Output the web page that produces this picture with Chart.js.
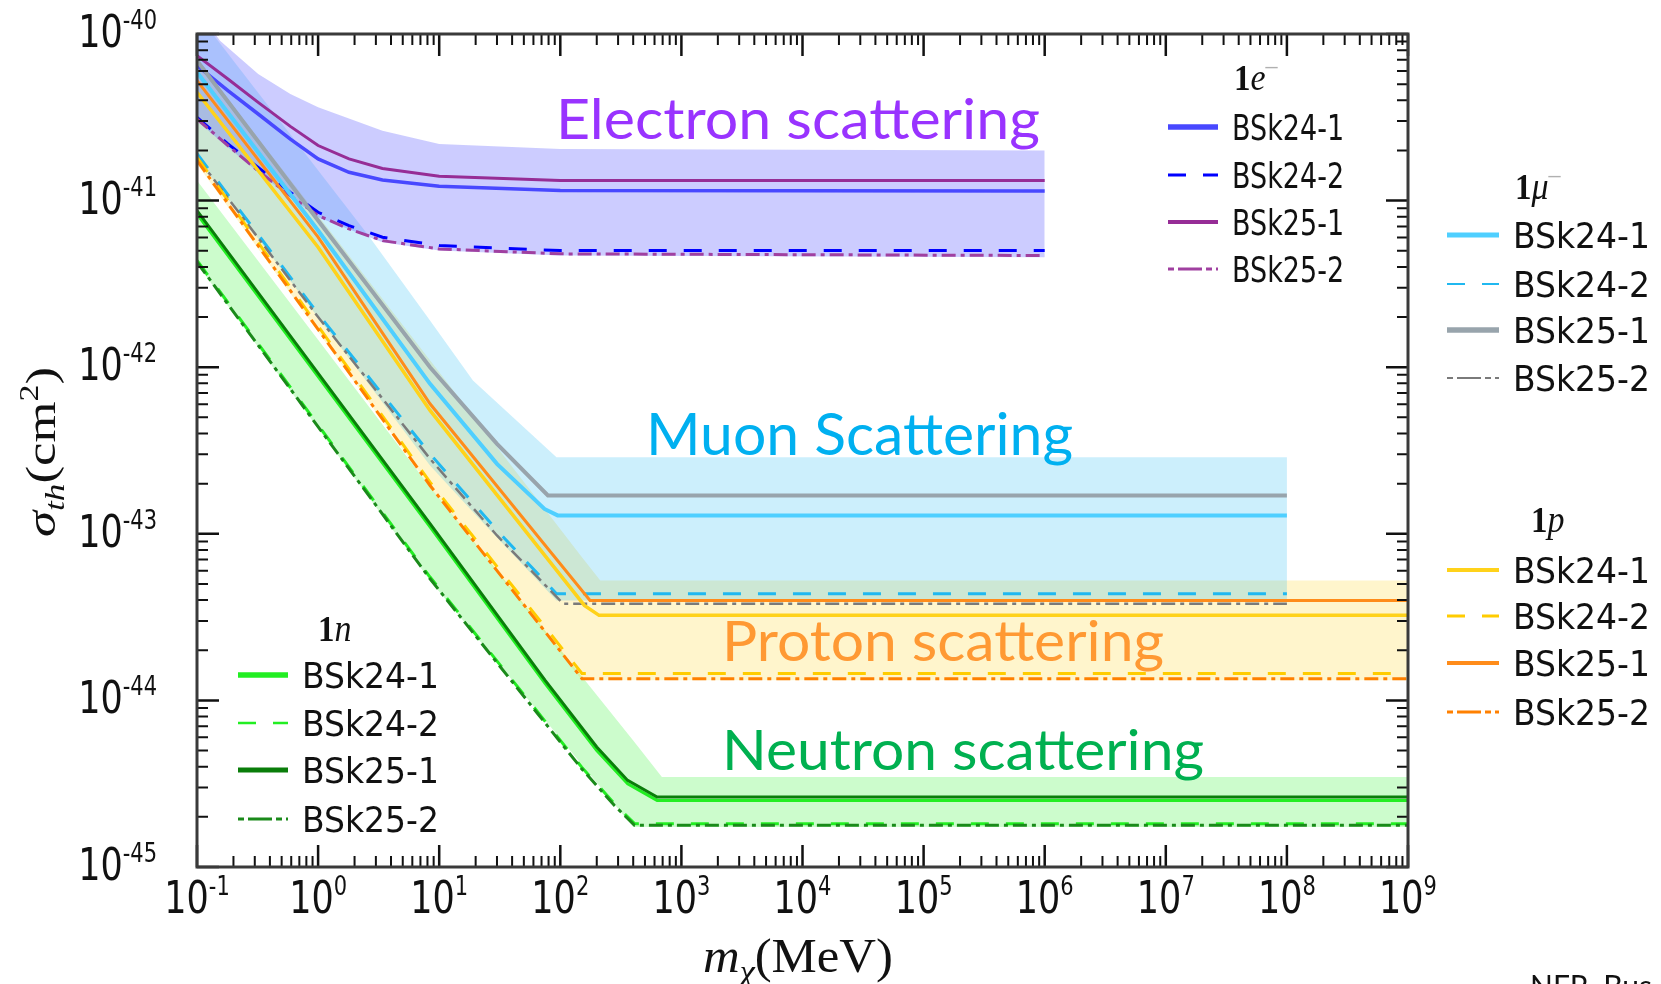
<!DOCTYPE html>
<html lang="en">
<head>
<meta charset="UTF-8">
<title>Threshold cross section</title>
<script src="https://cdn.jsdelivr.net/npm/chart.js@4.4.0/dist/chart.umd.min.js"></script>
<style>
  html, body { margin: 0; padding: 0; background: #fff; }
  canvas { display: block; }
</style>
</head>
<body>
<canvas id="sigma" width="1661" height="984"></canvas>
<script>
// values: m_chi in MeV, sigma_th in cm^2

// electron scattering
var eMass    = [0.1, 0.18, 0.32, 0.59, 1, 1.8, 3.4, 10, 100, 1e6];
var eBSk24_1 = [6.46e-41, 4.57e-41, 3.31e-41, 2.34e-41, 1.78e-41, 1.48e-41, 1.33e-41, 1.22e-41, 1.15e-41, 1.14e-41];
var eBSk24_2 = [3.16e-41, 2.19e-41, 1.58e-41, 1.12e-41, 8.51e-42, 7.08e-42, 6.03e-42, 5.37e-42, 5.01e-42, 5.01e-42];
var eBSk25_1 = [7.41e-41, 5.37e-41, 3.89e-41, 2.79e-41, 2.14e-41, 1.78e-41, 1.56e-41, 1.40e-41, 1.32e-41, 1.32e-41];
var eBSk25_2 = [3.09e-41, 2.14e-41, 1.51e-41, 1.07e-41, 8.13e-42, 6.76e-42, 5.75e-42, 5.13e-42, 4.79e-42, 4.68e-42];
var eBandMass = [0.1, 0.155, 0.32, 0.59, 1, 3.4, 10, 100, 1e6];
var eBandHigh = [1.41e-40, 9.12e-41, 5.75e-41, 4.37e-41, 3.63e-41, 2.63e-41, 2.19e-41, 2.04e-41, 2.00e-41];
var eBandLow  = [3.02e-41, 2.29e-41, 1.48e-41, 1.05e-41, 7.94e-42, 5.62e-42, 5.01e-42, 4.68e-42, 4.57e-42];

// muon scattering
var muMass24_1 = [0.1, 1, 8.4, 30, 74, 95, 1e8];
var muBSk24_1  = [5.89e-41, 6.61e-42, 7.94e-43, 2.63e-43, 1.41e-43, 1.29e-43, 1.29e-43];
var muMass24_2 = [0.1, 1, 8.4, 30, 93, 1e8];
var muBSk24_2  = [1.91e-41, 2.09e-42, 3.02e-43, 1.05e-43, 4.37e-44, 4.37e-44];
var muMass25_1 = [0.1, 1, 8.4, 30, 79, 1e8];
var muBSk25_1  = [6.92e-41, 7.59e-42, 1.0e-42, 3.47e-43, 1.70e-43, 1.70e-43];
var muMass25_2 = [0.1, 1, 8.4, 30, 106, 1e8];
var muBSk25_2  = [1.82e-41, 2.00e-42, 2.82e-43, 9.77e-44, 3.80e-44, 3.80e-44];
var muBandMass = [0.1, 0.135, 2.55, 8.4, 19, 93, 1e8];
var muBandHigh = [1.32e-40, 1.0e-40, 6.31e-42, 1.91e-42, 8.32e-43, 2.88e-43, 2.88e-43];
var muBandLow  = [1.78e-41, 1.35e-41, 8.13e-43, 2.57e-43, 1.35e-43, 3.98e-44, 3.98e-44];

// proton scattering
var pMass24_1 = [0.1, 1, 8.4, 158, 209, 1e9];
var pBSk24_1  = [4.47e-41, 5.25e-42, 5.50e-43, 3.72e-44, 3.24e-44, 3.24e-44];
var pMass25_1 = [0.1, 1, 8.4, 176, 1e9];
var pBSk25_1  = [5.25e-41, 6.03e-42, 6.03e-43, 3.98e-44, 3.98e-44];
var pMass_2   = [0.1, 8.4, 151, 1e9];
var pBSk24_2  = [1.82e-41, 2.04e-43, 1.45e-44, 1.45e-44];
var pBSk25_2  = [1.74e-41, 1.95e-43, 1.35e-44, 1.35e-44];
var pBandMass = [0.1, 8.4, 151, 214, 1e9];
var pBandHigh = [7.08e-41, 1.10e-42, 7.24e-44, 5.25e-44, 5.25e-44];
var pBandLow  = [1.66e-41, 1.91e-43, 1.32e-44, 1.32e-44, 1.32e-44];

// neutron scattering
var nMass_1   = [0.1, 8.4, 75, 200, 360, 630, 1e9];
var nBSk24_1  = [8.32e-42, 1.10e-43, 1.26e-44, 5.01e-45, 3.16e-45, 2.51e-45, 2.51e-45];
var nBSk25_1  = [8.71e-42, 1.15e-43, 1.32e-44, 5.25e-45, 3.31e-45, 2.63e-45, 2.63e-45];
var nMass_2   = [0.1, 8.4, 150, 280, 410, 1e9];
var nBSk24_2  = [4.37e-42, 5.50e-44, 3.98e-45, 2.40e-45, 1.82e-45, 1.82e-45];
var nBSk25_2  = [4.27e-42, 5.37e-44, 3.89e-45, 2.34e-45, 1.78e-45, 1.78e-45];
var nBandMass = [0.1, 8.4, 400, 690, 1e9];
var nBandHigh = [1.32e-41, 1.91e-43, 5.75e-45, 3.47e-45, 3.47e-45];
var nBandLow  = [4.17e-42, 5.25e-44, 1.74e-45, 1.74e-45, 1.74e-45];

// tick labels (powers of ten)
var xTickExp = ['-1', '0', '1', '2', '3', '4', '5', '6', '7', '8', '9'];
var yTickExp = ['-40', '-41', '-42', '-43', '-44', '-45'];
var models = ['BSk24-1', 'BSk24-2', 'BSk25-1', 'BSk25-2'];

var SANS = '"DejaVu Sans", sans-serif';
var SERIF = '"Liberation Serif", "DejaVu Serif", serif';
var DASH = [18, 17];
var DASHDOT = [14, 5, 4, 5];
var LEG_DASHDOT = [6, 4, 24, 4];

function pts(xs, ys) {
    return xs.map(function (x, i) { return {x: x, y: ys[i]}; });
}

function curve(group, model, xs, ys, color, width, dash, legWidth, legDash) {
    return {
        group: group, model: model, legWidth: legWidth || width, legDash: legDash || dash || [],
        data: pts(xs, ys), borderColor: color, borderWidth: width, borderDash: dash || [],
        pointRadius: 0, fill: false, tension: 0, order: 0
    };
}

function band(xs, hi, lo, color) {
    return [{
        data: pts(xs, hi), borderColor: 'rgba(0,0,0,0)', borderWidth: 1, pointRadius: 0,
        backgroundColor: color, fill: '+1', order: 5
    }, {
        data: pts(xs, lo), borderColor: 'rgba(0,0,0,0)', borderWidth: 1, pointRadius: 0,
        fill: false, order: 5
    }];
}

var datasets = [].concat(
    band(eBandMass, eBandHigh, eBandLow, 'rgba(100,100,255,0.33)'),
    band(muBandMass, muBandHigh, muBandLow, 'rgba(0,175,240,0.2)'),
    band(pBandMass, pBandHigh, pBandLow, 'rgba(255,205,0,0.2)'),
    band(nBandMass, nBandHigh, nBandLow, 'rgba(0,240,0,0.2)'),
    [
        curve('n', models[2], nMass_1, nBSk25_1, '#0a7d0a', 3, null, 5, null),
        curve('n', models[0], nMass_1, nBSk24_1, '#22ee22', 3, null, 5.5, null),
        curve('n', models[3], nMass_2, nBSk25_2, '#1a8a1a', 3, DASHDOT, 3, LEG_DASHDOT),
        curve('n', models[1], nMass_2, nBSk24_2, '#22ee22', 3, DASH, 2.5, DASH),

        curve('p', models[2], pMass25_1, pBSk25_1, '#ff8c1a', 3, null, 4, null),
        curve('p', models[0], pMass24_1, pBSk24_1, '#ffd21a', 3.5, null, 4, null),
        curve('p', models[3], pMass_2, pBSk25_2, '#ff8000', 3, DASHDOT, 3, LEG_DASHDOT),
        curve('p', models[1], pMass_2, pBSk24_2, '#ffcc00', 3, DASH, 3, DASH),

        curve('mu', models[2], muMass25_1, muBSk25_1, '#98a4ac', 4, null, 5.5, null),
        curve('mu', models[0], muMass24_1, muBSk24_1, '#4fcfff', 4, null, 5, null),
        curve('mu', models[3], muMass25_2, muBSk25_2, '#7a7a7a', 2.5, DASHDOT, 2, LEG_DASHDOT),
        curve('mu', models[1], muMass24_2, muBSk24_2, '#20b8f0', 3, DASH, 2, DASH),

        curve('e', models[2], eMass, eBSk25_1, '#962d96', 3, null, 4, null),
        curve('e', models[0], eMass, eBSk24_1, '#4848ff', 3.5, null, 5.5, null),
        curve('e', models[3], eMass, eBSk25_2, '#a040a0', 3, DASHDOT, 3, LEG_DASHDOT),
        curve('e', models[1], eMass, eBSk24_2, '#0000ff', 3, DASH, 3, DASH)
    ]
);

// text helpers
function stretchText(ctx, txt, x, y, font, sy, align) {
    ctx.save();
    ctx.font = font;
    ctx.textAlign = align || 'left';
    ctx.translate(x, y);
    ctx.scale(1, sy);
    ctx.fillText(txt, 0, 0);
    ctx.restore();
}

function piecesWidth(ctx, pieces) {
    var w = 0;
    pieces.forEach(function (p) { ctx.font = p.f; w += ctx.measureText(p.t).width; });
    return w;
}

function drawPieces(ctx, pieces, sx, sy) {
    ctx.save();
    ctx.scale(sx, sy);
    var cx = 0;
    pieces.forEach(function (p) {
        ctx.font = p.f;
        ctx.fillStyle = p.c || '#111';
        ctx.fillText(p.t, cx, p.dy || 0);
        cx += ctx.measureText(p.t).width;
    });
    ctx.restore();
}

function powerLabel(ctx, exp, x, baseY, align) {
    var bf = '35px ' + SANS, ef = '21px ' + SANS;
    ctx.font = bf;
    var wb = ctx.measureText('10').width;
    ctx.font = ef;
    var we = ctx.measureText(exp).width;
    var left = align === 'right' ? x - wb - we : x - (wb + we) / 2;
    stretchText(ctx, '10', left, baseY, bf, 1.28);
    stretchText(ctx, exp, left + wb, baseY - 18, ef, 1.3);
}

function fitText(ctx, txt, left, right, base, cap, color) {
    ctx.save();
    ctx.font = (cap / 0.7165).toFixed(1) + 'px Lato, "Open Sans", sans-serif';
    var w = ctx.measureText(txt).width;
    ctx.fillStyle = color;
    ctx.textAlign = 'left';
    ctx.translate(left, base);
    ctx.scale((right - left) / w, 1);
    ctx.fillText(txt, 0, 0);
    ctx.restore();
}

function legendHead(sym) {
    return [
        {t: '1', f: 'bold 33px ' + SERIF},
        {t: sym, f: 'italic 34px ' + SERIF},
        {t: sym === 'e' || sym === 'μ' ? '\u2013' : '', f: '24px ' + SERIF, dy: -15, c: '#b0b0b0'}
    ];
}

// the electron block uses a narrow, tall type; the other three a wider one
var legendSpots = [
    {group: 'e',  sym: 'e', hx: 1234, hy: 90,  x0: 1168, x1: 1218, tx: 1232, font: 27, sy: 1.3,  rows: [127, 175, 222, 269]},
    {group: 'mu', sym: 'μ', hx: 1515, hy: 199, x0: 1447, x1: 1499, tx: 1513, font: 33, sy: 1.08, rows: [235, 284, 330, 378]},
    {group: 'p',  sym: 'p', hx: 1531, hy: 532, x0: 1447, x1: 1499, tx: 1513, font: 33, sy: 1.08, rows: [570, 616, 663, 712]},
    {group: 'n',  sym: 'n', hx: 318,  hy: 641, x0: 238,  x1: 288,  tx: 302,  font: 33, sy: 1.08, rows: [675, 723, 770, 819]}
];

var decor = {
    id: 'decor',
    afterDraw: function (chart) {
        var ctx = chart.ctx, a = chart.chartArea;
        var sx = chart.scales.x, sy = chart.scales.y;
        var e, k, p, len;
        ctx.save();

        // inward tick marks on all four sides
        ctx.strokeStyle = '#111';
        for (e = -1; e <= 9; e++) {
            for (k = 1; k <= 9; k++) {
                if (e === 9 && k > 1) break;
                p = sx.getPixelForValue(k * Math.pow(10, e));
                len = k === 1 ? 22 : 11;
                ctx.lineWidth = k === 1 ? 2.5 : 2;
                ctx.beginPath();
                ctx.moveTo(p, a.bottom); ctx.lineTo(p, a.bottom - len);
                ctx.moveTo(p, a.top); ctx.lineTo(p, a.top + len);
                ctx.stroke();
            }
        }
        for (e = -45; e <= -40; e++) {
            for (k = 1; k <= 9; k++) {
                if (e === -40 && k > 1) break;
                p = sy.getPixelForValue(k * Math.pow(10, e));
                len = k === 1 ? 22 : 11;
                ctx.lineWidth = k === 1 ? 2.5 : 2;
                ctx.beginPath();
                ctx.moveTo(a.left, p); ctx.lineTo(a.left + len, p);
                ctx.moveTo(a.right, p); ctx.lineTo(a.right - len, p);
                ctx.stroke();
            }
        }

        // frame
        ctx.strokeStyle = '#3a3a3a';
        ctx.lineWidth = 3;
        ctx.strokeRect(a.left, a.top, a.right - a.left, a.bottom - a.top);

        // tick labels
        ctx.fillStyle = '#111';
        xTickExp.forEach(function (ex) {
            powerLabel(ctx, ex, sx.getPixelForValue(Math.pow(10, Number(ex))), 913, 'center');
        });
        yTickExp.forEach(function (ex) {
            powerLabel(ctx, ex, 157, sy.getPixelForValue(Math.pow(10, Number(ex))) + 13, 'right');
        });

        // axis titles
        var xt = [
            {t: 'm', f: 'italic 42px ' + SERIF},
            {t: 'χ', f: 'italic 28px ' + SERIF, dy: 9},
            {t: '(MeV)', f: '42px ' + SERIF}
        ];
        ctx.save();
        ctx.translate(703, 972);
        drawPieces(ctx, xt, 190 / piecesWidth(ctx, xt), 1.15);
        ctx.restore();

        var yt = [
            {t: 'σ', f: 'italic 42px ' + SERIF},
            {t: 'th', f: 'italic 28px ' + SERIF, dy: 9},
            {t: '(cm', f: '42px ' + SERIF},
            {t: '2', f: '27px ' + SERIF, dy: -17},
            {t: ')', f: '42px ' + SERIF}
        ];
        ctx.save();
        ctx.translate(55, 537);
        ctx.rotate(-Math.PI / 2);
        drawPieces(ctx, yt, 170 / piecesWidth(ctx, yt), 1);
        ctx.restore();

        // legends, one block per particle
        legendSpots.forEach(function (spot) {
            ctx.save();
            ctx.translate(spot.hx, spot.hy);
            drawPieces(ctx, legendHead(spot.sym), 1, 1.1);
            ctx.restore();
            chart.data.datasets.forEach(function (ds) {
                if (ds.group !== spot.group) return;
                var y = spot.rows[models.indexOf(ds.model)];
                ctx.save();
                ctx.strokeStyle = ds.borderColor;
                ctx.lineWidth = ds.legWidth;
                ctx.setLineDash(ds.legDash);
                ctx.beginPath();
                ctx.moveTo(spot.x0, y);
                ctx.lineTo(spot.x1, y);
                ctx.stroke();
                ctx.restore();
                ctx.fillStyle = '#111';
                stretchText(ctx, ds.model, spot.tx, y + 12.5, spot.font + 'px ' + SANS, spot.sy, 'left');
            });
        });

        // region labels
        fitText(ctx, 'Electron scattering', 556, 1040, 139, 40, '#9933ff');
        fitText(ctx, 'Muon Scattering', 646, 1073, 455, 41, '#00b0f0');
        fitText(ctx, 'Proton scattering', 722, 1164, 661, 40, '#ff9933');
        fitText(ctx, 'Neutron scattering', 722, 1204, 770, 40, '#00b050');

        ctx.fillStyle = '#111';
        ctx.font = '30px Lato, sans-serif';
        ctx.fillText('NFR, Bus', 1530, 997);
        ctx.restore();
    }
};

new Chart(document.getElementById('sigma').getContext('2d'), {
    type: 'line',
    data: {datasets: datasets},
    options: {
        responsive: false,
        animation: false,
        events: [],
        layout: {padding: {left: 197, right: 253, top: 34, bottom: 117}},
        scales: {
            x: {type: 'logarithmic', min: 0.1, max: 1e9, display: false},
            y: {type: 'logarithmic', min: 1e-45, max: 1e-40, display: false}
        },
        plugins: {
            legend: {display: false},
            tooltip: {enabled: false},
            filler: {drawTime: 'beforeDatasetsDraw', propagate: false}
        }
    },
    plugins: [decor]
});
</script>
</body>
</html>
